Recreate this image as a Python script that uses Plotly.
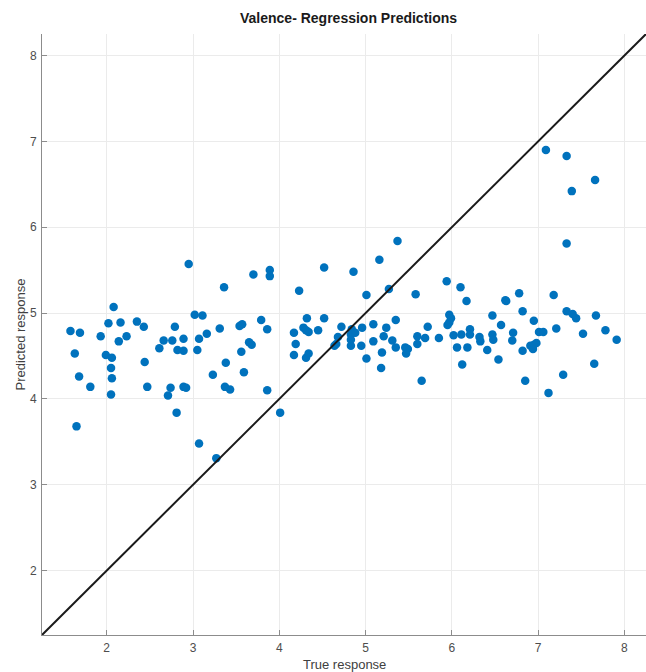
import plotly.graph_objects as go

true_response = [
    2.95, 2.08, 3.02, 1.58, 1.69, 2.02, 2.16, 2.35, 2.43, 1.93, 2.23, 2.14, 2.79, 2.66, 2.76, 2.89,
    2.61, 2.82, 2.89, 3.05, 3.07, 1.63, 1.99, 2.06, 2.05, 2.44, 1.68, 2.06, 1.81, 2.47, 2.74, 2.89,
    2.92, 2.05, 2.71, 2.81, 1.65, 3.07,
    3.11, 3.70, 3.89, 3.89, 4.52, 3.36, 4.23, 3.79, 3.86, 3.54, 3.57, 3.31, 3.16, 3.65, 3.68, 3.56,
    3.38, 3.59, 3.23, 3.37, 3.43, 3.86, 4.01, 3.27, 4.32, 4.52, 4.17, 4.28, 4.31, 4.34, 4.45, 4.19,
    4.17, 4.31, 4.34, 4.72, 4.68, 4.64, 4.66,
    5.37, 5.16, 4.86, 5.01, 5.27, 5.58, 5.94, 6.10, 6.17, 5.35, 5.97, 5.99, 5.97, 5.95, 4.84, 4.83,
    4.83, 4.83, 4.88, 4.96, 5.09, 5.24, 5.09, 5.21, 4.95, 5.31, 5.35, 5.19, 5.01, 5.18, 5.46, 5.49,
    5.47, 5.60, 5.60, 5.69, 5.72, 5.85, 6.02, 6.11, 6.06, 6.18, 6.12, 5.65, 6.21, 6.21,
    7.33, 6.78, 6.62, 6.63, 7.18, 6.82, 6.47, 7.33, 7.40, 7.44, 7.67, 6.95, 6.57, 6.32, 6.33, 6.47,
    6.48, 6.71, 6.70, 7.01, 7.06, 7.21, 7.52, 7.78, 7.91, 6.41, 6.82, 6.91, 6.94, 6.98, 6.95, 6.54,
    7.65, 7.29, 6.85, 7.12,
    7.09, 7.33, 7.66, 7.39,
]

predicted_response = [
    5.57, 5.07, 4.98, 4.79, 4.77, 4.88, 4.89, 4.90, 4.84, 4.73, 4.73, 4.67, 4.84, 4.68, 4.68, 4.70,
    4.59, 4.57, 4.56, 4.57, 4.70, 4.53, 4.51, 4.48, 4.36, 4.43, 4.26, 4.24, 4.14, 4.14, 4.13, 4.14,
    4.13, 4.05, 4.04, 3.84, 3.68, 3.48,
    4.97, 5.45, 5.50, 5.43, 5.53, 5.30, 5.26, 4.92, 4.81, 4.85, 4.87, 4.82, 4.76, 4.66, 4.63, 4.55,
    4.42, 4.31, 4.28, 4.14, 4.11, 4.10, 3.84, 3.31, 4.94, 4.94, 4.77, 4.83, 4.80, 4.78, 4.80, 4.64,
    4.51, 4.48, 4.53, 4.84, 4.72, 4.62, 4.64,
    5.84, 5.62, 5.48, 5.21, 5.28, 5.22, 5.37, 5.30, 5.14, 4.92, 4.98, 4.94, 4.89, 4.86, 4.81, 4.75,
    4.69, 4.62, 4.77, 4.83, 4.87, 4.83, 4.67, 4.73, 4.62, 4.68, 4.60, 4.54, 4.47, 4.36, 4.60, 4.58,
    4.53, 4.73, 4.64, 4.71, 4.84, 4.71, 4.74, 4.75, 4.60, 4.60, 4.40, 4.21, 4.81, 4.75,
    5.81, 5.23, 5.15, 5.14, 5.21, 5.02, 4.97, 5.02, 4.99, 4.94, 4.97, 4.91, 4.86, 4.72, 4.67, 4.75,
    4.69, 4.77, 4.68, 4.78, 4.78, 4.82, 4.76, 4.80, 4.69, 4.57, 4.56, 4.62, 4.58, 4.65, 4.63, 4.46,
    4.41, 4.28, 4.21, 4.07,
    6.90, 6.83, 6.55, 6.42,
]

axis_range = [1.25, 8.25]
tick_values = [2, 3, 4, 5, 6, 7, 8]
tick_labels = ["2", "3", "4", "5", "6", "7", "8"]

font_family = "Liberation Sans, Arial, sans-serif"

fig = go.Figure()

fig.add_trace(go.Scatter(
    x=true_response, y=predicted_response, mode="markers",
    marker=dict(color="#0072BD", size=8.5, line=dict(width=0)),
    showlegend=False, hoverinfo="x+y",
))

fig.add_trace(go.Scatter(
    x=axis_range, y=axis_range, mode="lines",
    line=dict(color="#1a1a1a", width=2),
    showlegend=False, hoverinfo="skip",
))

axis_common = dict(
    range=axis_range,
    tickvals=tick_values,
    ticktext=tick_labels,
    showgrid=True,
    gridcolor="#ebebeb",
    gridwidth=1,
    zeroline=False,
    showline=True,
    linecolor="#8c8c8c",
    linewidth=1,
    ticks="inside",
    ticklen=5,
    tickcolor="#8c8c8c",
    tickfont=dict(family=font_family, size=12, color="#4d4d4d"),
    mirror=False,
    automargin=False,
)

fig.update_layout(
    width=646, height=672,
    margin=dict(l=42, r=0, t=34, b=37, autoexpand=False),
    paper_bgcolor="white",
    plot_bgcolor="white",
    xaxis=dict(axis_common, ticklabelstandoff=2),
    yaxis=dict(axis_common, ticklabelstandoff=2),
    annotations=[
        dict(text="<b>Valence- Regression Predictions</b>", xref="paper", yref="paper",
             x=0.508, y=1, yshift=16, xanchor="center", yanchor="middle", showarrow=False,
             font=dict(family=font_family, size=14, color="#1a1a1a")),
        dict(text="True response", xref="paper", yref="paper",
             x=0.5, y=0, yshift=-29, xanchor="center", yanchor="middle", showarrow=False,
             font=dict(family=font_family, size=13, color="#404040")),
        dict(text="Predicted response", xref="paper", yref="paper",
             x=0, xshift=-22, y=0.5, xanchor="center", yanchor="middle", textangle=-90,
             showarrow=False, font=dict(family=font_family, size=13, color="#404040")),
    ],
)

fig.write_html(
    "out.html",
    config={"displayModeBar": False},
    post_script="document.body.style.margin='0';document.body.style.padding='0';"
                "document.body.style.overflow='hidden';",
)
